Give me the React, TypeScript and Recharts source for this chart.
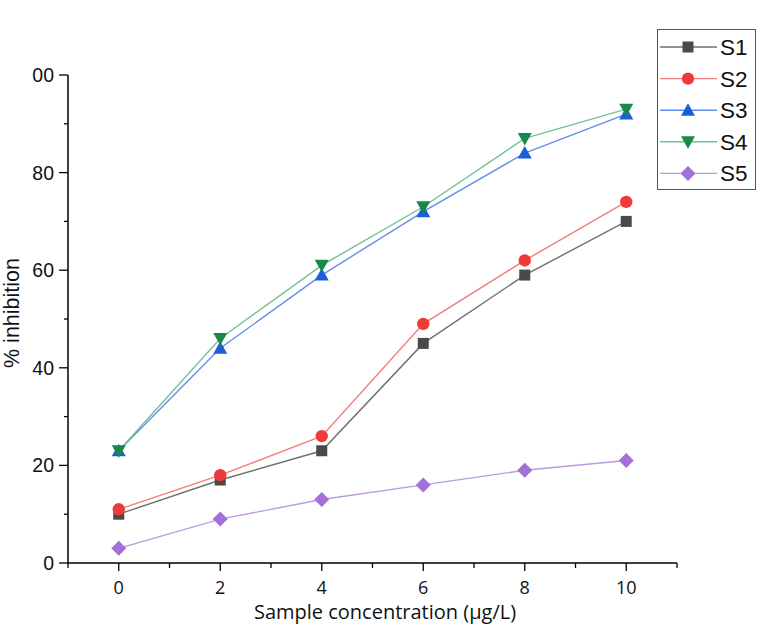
import React from 'react';
import { LineChart, Line, XAxis, YAxis, Legend } from 'recharts';

const concentrations = [0, 2, 4, 6, 8, 10];
const s1 = [10, 17, 23, 45, 59, 70];
const s2 = [11, 18, 26, 49, 62, 74];
const s3 = [23, 44, 59, 72, 84, 92];
const s4 = [23, 46, 61, 73, 87, 93];
const s5 = [3, 9, 13, 16, 19, 21];

const seriesNames = ['S1', 'S2', 'S3', 'S4', 'S5'];
const xTicks = [-1, 0, 1, 2, 3, 4, 5, 6, 7, 8, 9, 10, 11];
const xMajor = [0, 2, 4, 6, 8, 10];
const xTickText = ['0', '2', '4', '6', '8', '10'];
const yTicks = [0, 10, 20, 30, 40, 50, 60, 70, 80, 90, 100];
const yMajor = [0, 20, 40, 60, 80, 100];
const yTickText = ['0', '20', '40', '60', '80', '00'];

const data = concentrations.map((c, i) => ({
  x: c,
  S1: s1[i],
  S2: s2[i],
  S3: s3[i],
  S4: s4[i],
  S5: s5[i],
}));

type Shape = 'square' | 'circle' | 'triangle' | 'down' | 'diamond';

const styles: { key: string; shape: Shape; marker: string; line: string }[] = [
  { key: 'S1', shape: 'square', marker: '#4a4a4a', line: '#707070' },
  { key: 'S2', shape: 'circle', marker: '#f03a3a', line: '#f27c7c' },
  { key: 'S3', shape: 'triangle', marker: '#1d5fd8', line: '#5f8fe6' },
  { key: 'S4', shape: 'down', marker: '#168a48', line: '#72c294' },
  { key: 'S5', shape: 'diamond', marker: '#a270d8', line: '#bd9ae2' },
];

function Marker({ shape, cx, cy, color }: { shape: Shape; cx: number; cy: number; color: string }) {
  switch (shape) {
    case 'square':
      return <rect x={cx - 5.5} y={cy - 5.5} width={11} height={11} fill={color} />;
    case 'circle':
      return <circle cx={cx} cy={cy} r={6.2} fill={color} />;
    case 'triangle':
      return <path d={`M${cx},${cy - 7} L${cx + 7},${cy + 5.5} L${cx - 7},${cy + 5.5} Z`} fill={color} />;
    case 'down':
      return <path d={`M${cx},${cy + 7} L${cx + 7},${cy - 5.5} L${cx - 7},${cy - 5.5} Z`} fill={color} />;
    case 'diamond':
      return <path d={`M${cx},${cy - 7.5} L${cx + 7.5},${cy} L${cx},${cy + 7.5} L${cx - 7.5},${cy} Z`} fill={color} />;
  }
  return null;
}

const makeDot = (shape: Shape, color: string, name: string) => (props: any) => {
  const { cx, cy, index } = props;
  if (cx == null || cy == null) return <g key={`${name}-${index}`} />;
  return (
    <g key={`${name}-${index}`}>
      <Marker shape={shape} cx={cx} cy={cy} color={color} />
    </g>
  );
};

const XTick = (props: any) => {
  const { x, y, payload } = props;
  const v = payload.value;
  const mi = xMajor.indexOf(v);
  return (
    <g>
      <line x1={x} y1={y} x2={x} y2={y + (mi >= 0 ? 8 : 5)} stroke="#000" strokeWidth={1.3} />
      {mi >= 0 && (
        <text x={x} y={y + 31} textAnchor="middle" fontFamily="'Open Sans', sans-serif" fontSize={18} fill="#111">
          {xTickText[mi]}
        </text>
      )}
    </g>
  );
};

const YTick = (props: any) => {
  const { x, y, payload } = props;
  const v = payload.value;
  const mi = yMajor.indexOf(v);
  return (
    <g>
      <line x1={x - (mi >= 0 ? 9 : 4)} y1={y} x2={x} y2={y} stroke="#000" strokeWidth={1.3} />
      {mi >= 0 && (
        <text x={x - 14} y={y + 7} textAnchor="end" fontFamily="'Liberation Sans', Arial, sans-serif" fontSize={19.5} fill="#111">
          {yTickText[mi]}
        </text>
      )}
    </g>
  );
};

const LegendBox = () => (
  <div
    style={{
      position: 'absolute',
      left: 657,
      top: 29,
      width: 99,
      height: 161,
      border: '1.3px solid #555',
      boxSizing: 'border-box',
      background: '#fff',
    }}
  >
    <svg width={99} height={161} style={{ position: 'absolute', left: -1, top: -1 }}>
      {styles.map((s, i) => {
        const cy = 18 + i * 31.6;
        return (
          <g key={s.key}>
            <line x1={3} y1={cy} x2={60} y2={cy} stroke={s.line} strokeWidth={1.4} />
            <Marker shape={s.shape} cx={31} cy={cy} color={s.marker} />
            <text x={63} y={cy + 8} fontFamily="'Liberation Sans', Arial, sans-serif" fontSize={22.5} fill="#111">
              {seriesNames[i]}
            </text>
          </g>
        );
      })}
    </svg>
  </div>
);

export default function App() {
  return (
    <div style={{ position: 'absolute', left: 0, top: 0, width: 762, height: 629, background: '#fff' }}>
      <LineChart width={762} height={629} data={data} margin={{ top: 75, right: 85, bottom: 0, left: 0 }}>
        <XAxis
          dataKey="x"
          type="number"
          domain={[-1, 11]}
          ticks={xTicks}
          interval={0}
          tick={<XTick />}
          tickLine={false}
          tickSize={0}
          tickMargin={0}
          height={66}
          axisLine={{ stroke: '#000', strokeWidth: 1.5 }}
          allowDataOverflow
        />
        <YAxis
          type="number"
          domain={[0, 100]}
          ticks={yTicks}
          interval={0}
          tick={<YTick />}
          tickLine={false}
          tickSize={0}
          tickMargin={0}
          width={68}
          axisLine={{ stroke: '#000', strokeWidth: 1.5 }}
        />
        {styles.map((s) => (
          <Line
            key={s.key}
            dataKey={s.key}
            name={s.key}
            stroke={s.line}
            strokeWidth={1.4}
            dot={makeDot(s.shape, s.marker, s.key)}
            activeDot={false}
            isAnimationActive={false}
          />
        ))}
        <Legend content={() => <LegendBox />} wrapperStyle={{ position: 'absolute', left: 0, top: 0, width: 0, height: 0 }} />
      </LineChart>
      <div
        style={{
          position: 'absolute',
          left: 12,
          top: 313,
          transform: 'translate(-50%, -50%) rotate(-90deg)',
          fontFamily: "'Liberation Sans', Arial, sans-serif",
          fontSize: 21.5,
          color: '#111',
          whiteSpace: 'nowrap',
        }}
      >
        % inhibition
      </div>
      <div
        style={{
          position: 'absolute',
          left: 385,
          top: 611,
          transform: 'translate(-50%, -50%)',
          fontFamily: "'Open Sans', sans-serif",
          fontSize: 20,
          color: '#111',
          whiteSpace: 'nowrap',
        }}
      >
        Sample concentration (μg/L)
      </div>
    </div>
  );
}
